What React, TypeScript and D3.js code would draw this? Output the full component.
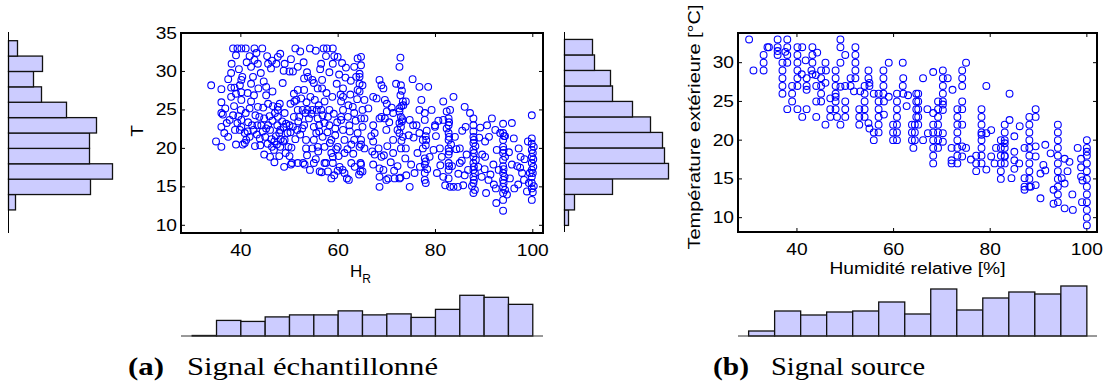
import React from "react";
import * as d3 from "d3";

// ---------- DATA ----------
// (a) sampled signal: [relative humidity %, temperature °C]
const sampledPoints: [number, number][] = [
  [38.4,33],[39.3,33],[40.1,33],[41,33],[44.4,33],[51.2,33],[54.2,33],[57,33],[57.7,33],[58.9,33],
  [38.1,31],[39,32.1],[41.8,32],[42.8,31.5],[43.5,31],[45.4,32],[45.6,31],[47.3,31],[47.6,31.9],[48.1,32.3],
  [49,31],[50,30],[50.7,30],[52.9,31.2],[51.7,30.6],[53.6,29.9],[53.8,29.3],[54.7,28.9],[55,28.5],[55.8,27.8],
  [56.5,31],[56.7,28.9],[57.5,32],[58.9,31],[59.2,32],[59.9,31.9],[60.8,31.1],[61.6,30.5],[63.3,30.6],[64,31.7],[64.4,29.7],
  [33.9,28.2],[36,27.7],[36,26],[36,24.6],[36.3,24.4],[36,22.8],[34.9,20.9],[36,20.2],[36.6,22],[38,27.9],
  [38,29.8],[38,26.7],[38.4,24.3],[37.7,23.7],[38.7,27.9],[39,27.1],[40.1,28.9],[40.3,29.3],[40.1,27.3],[40.1,26.3],
  [40,25],[40.1,23.7],[40.1,22.8],[39.8,22.4],[40.8,22],[41.1,21.1],[41.4,22.2],[41.8,21.5],[39,20.5],[40.4,20.5],
  [40.8,20.7],[42.1,30.6],[42.5,29.3],[42.1,28.4],[42.7,26.9],[43.5,25.4],[43.8,24.1],[42.1,26.1],[41.8,25.2],[42.3,23],
  [43.4,23],[44.2,23],[44.7,28.7],[45.2,28],[45.2,26.9],[45,21.5],[45.6,23],[46,22.4],[46,18.9],[46.4,20.2],
  [47.6,25],[47.6,25.4],[48,25.8],[47.6,24.1],[47.5,23],[48.1,22.4],[47.9,22],[48.1,20.2],[47.9,19],[48.8,22.8],
  [49,21.1],[49.8,20.2],[50,19],[50.5,18.1],[49,24.6],[50,23],[50.7,22.8],[50.9,24.1],[50.9,27.1],[51,26.1],
  [51.4,26.3],[51.7,27.6],[51.7,25],[52,24.1],[52.4,26.5],[52.7,25],[53,27.6],[53,29.1],[53,23],[53.4,20],
  [53.4,21.1],[53.7,25],[54,23.9],[54.3,26.7],[54.7,20],[54.7,25],[55,22.8],[55,21.1],[55.6,25],[55.8,23.9],
  [56.1,23],[56.5,25],[56.7,27.8],[57.2,26.1],[57.2,23.3],[57.2,20.2],[57.5,18.1],[57.9,24.1],[58.2,25],[58.2,23],
  [58.6,19.4],[58.6,21.1],[58.9,18.1],[58.6,16.1],[56.2,17],[57.2,18.1],[58.9,18.9],[59.9,20.2],[60.3,17.6],[60.9,17.2],
  [60.6,26.1],[61,25],[61,26.7],[61,27.8],[60.6,24.1],[60.6,23.7],[61,22.4],[61.3,21.1],[61.3,19.4],[62,24.1],
  [62.3,23],[62.7,20.5],[62.7,18.1],[63.3,21.1],[64,22],[64.4,20.2],[64.6,18.1],[64.6,17],[63.3,24.6],[63,25.4],
  [64,27.6],[64.4,28.4],[63.7,29.3],
  [45.2,22.6],[46.3,21.2],[46.9,20.9],[44.8,23.9],[43.3,21.8],[42.6,22.4],[44,20.4],[45.9,24.2],[46.6,25.5],[49.6,22],
  [51.6,22.4],[52.2,21.8],[55.5,22],[56.8,21.5],[59.4,22.6],[59.8,23.4],[62.4,22.2],[50.2,25.8],[48.6,28.5],[46.2,30.4],
  [44.1,29.8],[41.2,31.2],[39.6,30.3],[37.4,21.5],[52.8,18.1],[54.2,17.2],[55.4,18.6],[61.8,16.1],[63.1,19.3],[60.2,29.6],[62.5,27],
  [46.5,23.6],[47,24.6],[47.2,21.6],[48.5,23.5],[49.3,23.2],[48.2,21.2],[46.8,19.8],[45.5,20.6],[44.5,22.2],[43.9,21.3],
  [42.9,20.3],[41.5,23.4],[39.3,23.3],[38.8,22.4],[37.1,23.3],[36.8,25.2],[38.6,25.5],[39.5,24.2],[41,24.6],[43,24.3],
  [44.6,25.3],[45.6,25.8],[46.5,27.4],[43.6,27.8],[41.4,27.2],[39.8,28.2],[37.4,29],[42.8,33],[43.2,32.4],[46.4,31.4],
  [48.8,30.1],[50.3,31.6],[52.2,32.6],[55.4,32.7],[56.3,30.3],[58.2,29.9],[59.7,28.4],[57.6,27.2],[55.2,26.3],[53.5,26],
  [52.6,22.6],[51.2,21.2],[50.4,20.1],[49.2,19.4],[51.7,18.1],[53.6,19.1],[55.9,19.6],[56.8,24.3],[57.8,22.1],[59.1,24.5],
  [59.4,21.7],[60.1,19],[61.9,19.9],[62.1,25.6],[63.6,23.6],[63.9,26.4],[62.6,28.8],[61.5,29.2],[60.5,27],[58.8,26.7],
  [56,25.6],[54.5,24.5],[53.3,24.6],[51.8,23.5],[50.2,22.1],[48.7,20.9],[47.4,20.5],[44.8,19.2],[48.9,17.6],[50.3,17.9],
  [46.9,18.2],[55,18.1],[56.6,16.9],[57.9,17],[59.9,17.1],[61.3,16.8],[63.4,17.6],[64.3,16.6],[62.2,15.9],[59.2,16.5],
  [53.1,17.9],[55.8,20.2],[56.1,22.2],[58.3,20.7],[59.6,19.9],
  [64.7,31.9],[64.7,30.8],[64.4,29.3],[65,28.2],[64.4,27.4],[65.4,26.3],[65,25],[64.7,23.9],[65.4,23.9],[65,22.8],
  [64.7,21.1],[64.7,20.5],[65.4,20],[64.7,17.9],[65,17],[67.2,26.7],[67.9,26.5],[68.5,28.9],[68.9,28.2],[69.3,27.8],
  [69.6,26.3],[70,25.8],[70,24.8],[68.5,23.9],[68.9,24.1],[69.6,23.9],[67.2,23],[67.5,22],[67.2,20.9],[68.3,20],
  [67.5,19.2],[68.9,18.9],[67.2,17.9],[68.5,17.4],[68.5,16.3],[68.5,15],[69.3,17.2],[70.3,16.1],[71.3,19.4],[71.3,24.6],
  [71.3,21.1],[71.6,16.1],[71.9,28.4],[72.2,17.7],[72.2,22.4],[72.6,16.1],[72.9,28.2],[72.8,26.9],[72.6,30.6],[72.8,31.8],
  [72.6,25.2],[72.6,24.8],[72.9,24.1],[72.6,23.3],[72.9,22.8],[72.6,22],[73.3,21.5],[72.9,20],[73.9,20],[73.3,26.1],
  [73.9,26.1],[74.7,23.7],[75,17.9],[74.7,15],[75.3,29],[75.4,23],[76.1,23],[76.7,28],[78.5,28],[77.1,26.3],
  [76.7,25],[76.7,22],[77.4,21.1],[77.4,20],[77.8,24.6],[77.8,23.7],[77.8,18.7],[77.8,17.9],[77.8,16.8],[77.8,15.9],
  [78.1,21.1],[78.8,18.9],[79.2,25],[79.6,19.8],[79.9,23],[79.9,22.8],[80.3,16.8],[80.9,20],[81.3,18.9],[81.6,26.1],
  [81.6,23.7],[81.6,16.3],[82,15.2],[82.3,24.8],[82.7,23.9],[82.7,23],[82.7,22],[82.7,21.1],[82.7,20],[82.7,19.2],
  [82.7,18.1],[82.7,17.2],[82.7,16.1],[83,25],[83,15],[83.7,15],[84,21.5],[83.7,26.7],[84.6,15],[85,18.1],
  [85,20],[85.7,15.2],[86,25.4],[86.4,19.2],[86.7,17.2],[87.1,24.6],[87.8,23.9],[87.8,23],[87.8,22.2],[87.8,21.5],
  [87.8,20.7],[87.8,19.8],[87.8,18.9],[87.8,18.1],[87.8,17.2],[87.8,16.3],[87.8,15.5],[87.8,14.2],[88.1,14.6],[88.8,17.6],
  [89.5,16.3],[90.2,20.9],[90.2,18.9],[90.4,14.2],[90.6,23],[90.9,15.9],[91.6,23.9],[91.9,17.9],[92.3,22.4],[92.5,12.9],
  [93,17.2],[93.3,22],[93.9,23.2],[93.9,22],[93.9,21.1],[93.9,20.2],[93.9,19.4],[93.9,18.5],[93.9,17.7],[93.9,16.8],
  [93.9,15.9],[93.9,15],[93.9,14.2],[93.9,13.3],[93.9,11.9],[94.7,14],[95.7,23.3],[95.7,17.9],[96.8,17.7],[97.1,20],
  [97.5,18.9],[97.8,16.8],[98.2,15.9],[98.8,14.4],[99.2,15.5],[99.8,24.3],[99.8,21.3],[99.8,20.6],[99.8,19.8],[99.8,18.9],
  [99.8,18.1],[99.8,17.2],[99.8,16.3],[99.8,15.5],[99.8,14.8],[99.8,13.3],
  [82.3,22.6],[83.2,20.5],[83.4,17.7],[88.2,20.3],[88.3,18.5],[88.1,16.8],[87.5,15.1],[94.3,21.6],[94.3,18.9],[94.2,16.3],
  [94.3,14.6],[100.2,20.2],[100.1,17.6],[100.2,15.1],[73.4,25.6],[73.2,23.8],[78.2,22.3],[78,20.4],[78.3,17.3],[85.5,22.3],
  [89.6,19.2],[91,21.5],[96.2,14.8],[86,16.5],
  [66.2,25.2],[66.8,21.6],[67,19.6],[69.9,22.4],[70.5,23.4],[71,25.3],[70.1,20.3],[69.4,19.1],[70.8,18.2],[71.5,17.1],
  [73.8,18.7],[74.5,21.7],[75.5,21.4],[76.3,19.4],[76.8,17.6],[75.7,16.8],[74,16.5],[72.8,16.2],[69.9,15.9],[80.1,21.6],
  [80.6,23.6],[81,17.8],[84.3,19.9],[84.7,16.7],[85.4,18.4],[86.2,22.8],[89,21.4],[89.2,22.7],[90.1,17.3],[91.3,16.6],
  [92,15.3],[92.6,19.8],[92.4,14.8],[95.1,19.5],[95.3,16.1],[96.1,21.3],[97,15.3],[97.4,17.5],[98.3,18.6],[99,20.9],
  [99.4,16.8],[100,14.3],[100,16.8],[100.1,18.6],[100,19.4],[94,17.3],[94,15.5],[94,19.8],[94.1,21.6],[87.9,21.1],
  [87.9,19.4],[87.9,17.6],[87.9,15.9],[82.8,17.7],[82.8,19.6],[82.8,21.5],[82.8,23.4],[73,21],[73,25.5],[73.1,23.5],
  [73.1,27.5],[78,18.3],[78,15.5],[78,21.6]
];

// (b) source signal: [relative humidity %, temperature °C]
const sourcePoints: [number, number][] = [
  [30.1,33],[31,29],[33.1,31],[33.1,30],[33.1,29],[33.9,32],[34.2,32],[36,33],[36,32],[36,31],
  [37,29],[37,28],[37,27],[37,26],[38,33],[38,32],[38,31],[38,24],[39,27],[39,26],
  [39,25],[40.1,31],[40.1,30],[40.1,29],[40.1,28],[40.1,24],[41.1,32],[41.1,23],[41.8,30.3],[42,28],
  [42,27],[42,26.5],[42,24],[43.2,32],[43.2,31],[43.2,30],[43,29],[43.9,28.4],[44,25],[44,23],
  [44.2,31.3],[45,29],[45,28],[45,27],[45,26],[45.9,30],[45.9,27.4],[46.9,24],[46.9,23],[45.9,22],
  [46.9,25.4],[48,29],[48,28],[48,27],[48,26],[48,25.6],[48.3,23],[49,30],[49,32],[49,33],
  [49,26.9],[49,22],[50,31],[50,25],[50,24],[50,23],[51.1,28],[51.1,27],[52.1,32],[52.1,31],
  [52.1,30],[52.1,29],[51.8,26.3],[52.9,24],[52.9,23],[52.9,22],[53.1,26.3],[54,27],[54,26],[54,25],
  [54,24],[54.8,29],[54.8,28],[55,27.4],[54.8,22.2],[55,21.5],[55.9,21],[55.9,20],[55.9,26],[56.9,26],
  [56.9,25],[56.9,24],[56.9,23],[56.9,22],[57.9,29],[57.9,28],[57.9,27],[57.9,26],[59,30],[59,25.6],
  [59.9,22],[59.9,21],[59.9,20],[60.7,26],[60.7,25],[60.7,24],[60.7,23],[60.7,22],[61.9,30],[61.9,27],
  [62.7,24.4],[63.8,22],[63.8,21],[63.8,20],[64.1,19],[64.7,26],[64.7,25],[64.7,24],[64.7,23],
  [36,31.5],[37.6,31.4],[41,28.5],[48,25],[55,27],
  [37,30],[38,30],[40.1,32],[40.1,27],[43.2,28.5],[45,25],[48,24],[52.1,28],[54,23],[56.9,21],
  [58,25],[60.7,21],[60.7,20],[62,26],[62,28],[44,27],[46,29],[50,27],[58,23.3],[63,25.8],
  [65.1,26],[65.1,25],[65.1,24],[65.1,23],[64.4,22],[64.4,21],[64.4,20],[66.1,28],[66.1,20],[67.1,20.9],
  [68.2,28.8],[68.2,20],[68.2,19],[68.2,18],[68.2,17],[68.2,21],[68.2,22],[68.2,23.5],[69.2,25],[69.2,24],
  [69.2,23],[69.2,22],[69.2,21],[69.2,20],[70.2,29],[70.2,28],[70.2,27],[70.2,26],[70.2,24.6],[70.2,23.9],
  [70.2,20.9],[70.2,19.8],[71.2,28],[72.2,26.5],[72,17.4],[72,17],[73.2,23],[73.2,22],[73.2,21],[73.2,20],
  [73.2,19],[73.2,18],[74.2,29],[74.2,28],[74.2,27],[74.2,25],[74.2,24],[74.2,19.2],[74.2,17.9],[75,30],
  [75,19],[77.1,18],[77.1,17],[77.1,16],[78.2,24],[78.2,23],[78.2,22],[78.2,21],[78.2,20],[78.2,19],
  [78.2,20.7],[79.2,27],[79.2,20.9],[79.2,16.2],[80.2,21.3],[80.2,17.9],[81.2,19],[80.9,17],[82.2,17],[82.2,16],
  [82.2,15],[82.2,18],[83,22],[83,21],[83,20],[83,19],[83,19.6],[83,17.9],[83,17],[84,26],
  [84,22.6],[84.4,15.1],[85,20.5],[85,18.5],[85,17.4],[85,16.3],[86.1,21.8],[87.1,19],[87.1,15.1],[87.1,14],
  [87.1,13.6],[88.1,22],[88.1,21],[88.1,20],[88.1,19],[88.1,18],[88.1,17],[88.1,16],[88.1,15],[88.4,14],
  [89.4,24],[89.4,23],[89.4,19.2],[89.4,17.9],[89.4,14.2],[90.4,12.5],[90.4,15.7],[91.4,16.1],[91.4,19.4],[92.5,18.3],
  [93.1,13.6],[93.1,11.8],[94,21],[94,20],[94,19],[94,18],[94,17],[94,16],[94,15],[94,14],
  [94,13],[94,12],[94.8,15.1],[95.4,17.6],[95.4,14.4],[95.4,11.2],[96.4,17.2],[97.1,11],[98.1,19],[98.8,17.6],
  [98.8,15.3],[98.8,16.5],[99.1,14.8],[100,20],[100,19],[100,18],[100,17],[100,16],[100,15],[100,14],
  [100,13],[100,12],[100,11],[100,10],[100,9],
  [65.1,22],[69.2,19],[70.2,25],[73.2,24],[73.2,17],[74.2,22],[78.2,18],[78.2,17],[82.2,19],[82.2,20],
  [83,18],[88.1,14],[88.1,23],[94,22],[100,18.5],[99,12],[97,13],[96,16],[91,16.8],[86,17],
  [76,17.5],[72,19],[67,24]
];

// histograms (bin edges and counts)
const sampledTempEdges = [10, 12, 14, 16, 18, 20, 22, 24, 26, 28, 30, 32, 34];
const sampledTempCounts = [0, 7, 82, 104, 81, 81, 88, 58, 33, 25, 34, 9];
const sampledHumEdges = [30, 35, 40, 45, 50, 55, 60, 65, 70, 75, 80, 85, 90, 95, 100];
const sampledHumCounts = [1, 31, 29, 38, 42, 42, 50, 42, 44, 37, 53, 81, 77, 63];
const sourceTempEdges = [9, 11, 13, 15, 17, 19, 21, 23, 25, 27, 29, 31, 33];
const sourceTempCounts = [4, 10, 48, 104, 100, 98, 86, 68, 48, 46, 30, 28];
const sourceHumEdges = [30, 35.38, 40.77, 46.15, 51.54, 56.92, 62.31, 67.69, 73.08, 78.46, 83.85, 89.23, 94.62, 100];
const sourceHumCounts = [5, 25, 21, 24, 25, 34, 22, 47, 26, 38, 44, 42, 50];

const humTicks = [40, 60, 80, 100];
const sampledTempTicks = [10, 15, 20, 25, 30, 35];
const sourceTempTicks = [10, 15, 20, 25, 30];

const sansFont = "'Liberation Sans', Arial, Helvetica, sans-serif";
const serifFont = "'Liberation Serif', 'Times New Roman', serif";
const BAR_FILL = "#ccccff";
const BLUE = "#0000ff";

type PanelProps = {
  points: [number, number][];
  xDomain: [number, number];
  yDomain: [number, number];
  box: { x0: number; x1: number; y0: number; y1: number };
  yTicks: number[];
  tempEdges: number[];
  tempCounts: number[];
  humEdges: number[];
  humCounts: number[];
  sideAxisX: number;
  sideMax: number;
  bottomMax: number;
  bottomBase: number;
  yLabel: React.ReactNode;
  xLabel: React.ReactNode;
};

function Panel(p: PanelProps) {
  const { box } = p;
  const x = d3.scaleLinear().domain(p.xDomain).range([box.x0, box.x1]);
  const y = d3.scaleLinear().domain(p.yDomain).range([box.y1, box.y0]);
  const sideW = d3.scaleLinear().domain([0, d3.max(p.tempCounts) as number]).range([0, p.sideMax]);
  const botH = d3.scaleLinear().domain([0, d3.max(p.humCounts) as number]).range([0, p.bottomMax]);
  const tl = 4;
  return (
    <g>
      {/* side histogram (temperature) */}
      <g>
        {p.tempCounts.map((c, i) => (
          <rect
            key={i}
            x={p.sideAxisX}
            y={y(p.tempEdges[i + 1])}
            width={sideW(c)}
            height={y(p.tempEdges[i]) - y(p.tempEdges[i + 1])}
            fill={BAR_FILL}
            stroke="#111"
            strokeWidth={1.3}
          />
        ))}
        <line x1={p.sideAxisX} x2={p.sideAxisX} y1={box.y0 - 1} y2={box.y1} stroke="#000" strokeWidth={1} />
      </g>
      {/* bottom histogram (humidity) */}
      <g>
        {p.humCounts.map((c, i) => (
          <rect
            key={i}
            x={x(p.humEdges[i])}
            y={p.bottomBase - botH(c)}
            width={x(p.humEdges[i + 1]) - x(p.humEdges[i])}
            height={botH(c)}
            fill={BAR_FILL}
            stroke="#111"
            strokeWidth={1.3}
          />
        ))}
        <line x1={box.x0} x2={box.x1} y1={p.bottomBase} y2={p.bottomBase} stroke="#333" strokeWidth={1} />
      </g>
      {/* scatter */}
      <g>
        {p.points.map((d, i) => (
          <circle key={i} cx={x(d[0])} cy={y(d[1])} r={3.4} fill="none" stroke={BLUE} strokeWidth={1.1} />
        ))}
      </g>
      {/* ticks */}
      <g stroke="#000" strokeWidth={1}>
        {humTicks.map((t) => (
          <g key={t}>
            <line x1={x(t)} x2={x(t)} y1={box.y1} y2={box.y1 - tl} />
            <line x1={x(t)} x2={x(t)} y1={box.y0} y2={box.y0 + tl} />
          </g>
        ))}
        {p.yTicks.map((t) => (
          <g key={t}>
            <line x1={box.x0} x2={box.x0 + tl} y1={y(t)} y2={y(t)} />
            <line x1={box.x1} x2={box.x1 - tl} y1={y(t)} y2={y(t)} />
          </g>
        ))}
      </g>
      <rect x={box.x0} y={box.y0} width={box.x1 - box.x0} height={box.y1 - box.y0} fill="none" stroke="#000" strokeWidth={2} />
      {/* tick labels */}
      <g fontFamily={sansFont} fontSize={16} fill="#000">
        {humTicks.map((t) => (
          <g key={t} transform={`translate(${x(t)},${box.y1 + 23}) scale(1.2,1)`}>
            <text textAnchor="middle">{t}</text>
          </g>
        ))}
        {p.yTicks.map((t) => (
          <g key={t} transform={`translate(${box.x0 - 4},${y(t) + 5.5}) scale(1.2,1)`}>
            <text textAnchor="end">{t}</text>
          </g>
        ))}
      </g>
      {p.yLabel}
      {p.xLabel}
    </g>
  );
}

export default function App() {
  return (
    <svg
      width={1104}
      height={387}
      viewBox="0 0 1104 387"
      style={{ position: "absolute", left: 0, top: 0, display: "block", background: "#fff" }}
    >
      <rect x={0} y={0} width={1104} height={387} fill="#fff" />
      <Panel
        points={sampledPoints}
        xDomain={[27.7, 102.1]}
        yDomain={[9, 35]}
        box={{ x0: 181, x1: 543, y0: 33, y1: 233 }}
        yTicks={sampledTempTicks}
        tempEdges={sampledTempEdges}
        tempCounts={sampledTempCounts}
        humEdges={sampledHumEdges}
        humCounts={sampledHumCounts}
        sideAxisX={8.5}
        sideMax={104}
        bottomMax={40.7}
        bottomBase={336}
        yLabel={
          <g transform="translate(143,131) rotate(-90) scale(1.2,1)">
            <text textAnchor="middle" fontFamily={sansFont} fontSize={16}>T</text>
          </g>
        }
        xLabel={
          <text x={350} y={277} fontFamily={sansFont} fontSize={17}>
            H<tspan fontSize={12} dy={6}>R</tspan>
          </text>
        }
      />
      <Panel
        points={sourcePoints}
        xDomain={[27.8, 102.1]}
        yDomain={[8.15, 33.83]}
        box={{ x0: 738, x1: 1097, y0: 33, y1: 232 }}
        yTicks={sourceTempTicks}
        tempEdges={sourceTempEdges}
        tempCounts={sourceTempCounts}
        humEdges={sourceHumEdges}
        humCounts={sourceHumCounts}
        sideAxisX={564.5}
        sideMax={104}
        bottomMax={50}
        bottomBase={336}
        yLabel={
          <g transform="translate(699.5,127) rotate(-90)">
            <text textAnchor="middle" fontFamily={sansFont} fontSize={16} textLength={245} lengthAdjust="spacingAndGlyphs">
              Température extérieure [°C]
            </text>
          </g>
        }
        xLabel={
          <text x={917.5} y={274} textAnchor="middle" fontFamily={sansFont} fontSize={16} textLength={176} lengthAdjust="spacingAndGlyphs">
            Humidité relative [%]
          </text>
        }
      />
      {/* captions */}
      <g fontFamily={serifFont} fontSize={25} fill="#000">
        <text x={128} y={375} fontWeight="bold" textLength={36} lengthAdjust="spacingAndGlyphs">(a)</text>
        <text x={187} y={375} textLength={251} lengthAdjust="spacingAndGlyphs">Signal échantillonné</text>
        <text x={713} y={375} fontWeight="bold" textLength={36} lengthAdjust="spacingAndGlyphs">(b)</text>
        <text x={771} y={375} textLength={154} lengthAdjust="spacingAndGlyphs">Signal source</text>
      </g>
    </svg>
  );
}
